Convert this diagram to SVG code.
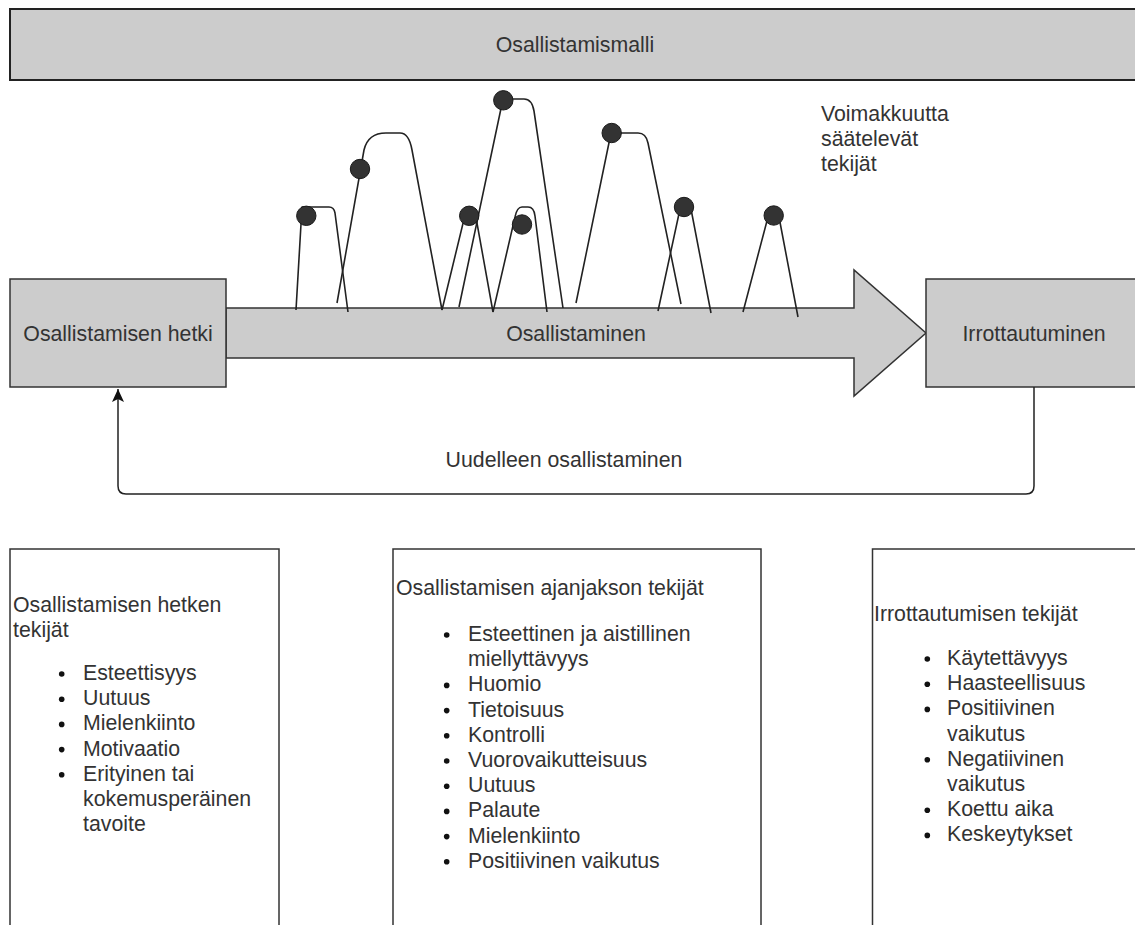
<svg xmlns="http://www.w3.org/2000/svg" width="1135" height="925" viewBox="0 0 1135 925">
<defs>
<style>
.t{font-family:"Liberation Sans",Arial,sans-serif;font-size:21.3px;fill:#333}
.c{text-anchor:middle}
.g{fill:#cccccc;stroke:#333;stroke-width:1.5}
.w{fill:#fff;stroke:#333;stroke-width:1.5}
.ln{fill:none;stroke:#222;stroke-width:1.6;stroke-linejoin:round}
.dot{fill:#333;stroke:#1a1a1a;stroke-width:1}
.b{fill:#111}
</style>
<marker id="arr" viewBox="0 0 14 14" markerWidth="14" markerHeight="14" refX="13" refY="7" orient="auto" markerUnits="userSpaceOnUse">
<path d="M0,1 L13,7 L0,13 L3,7 Z" fill="#111"/>
</marker>
</defs>
<rect width="1135" height="925" fill="#fff"/>

<g id="banner">
<rect x="10" y="9" width="1140" height="71" fill="#cccccc" stroke="#222" stroke-width="2"/>
<text class="t c" x="575" y="51.5">Osallistamismalli</text>
</g>

<g id="arrow-osallistaminen">
<polygon class="g" points="226,308 854,308 854,270 926,333 854,396 854,358 226,358"/>
<text class="t c" x="576" y="340.5">Osallistaminen</text>
</g>

<g id="node-hetki">
<rect class="g" x="10" y="279" width="216" height="108"/>
<text class="t c" x="118" y="340.5">Osallistamisen hetki</text>
</g>

<g id="node-irrottautuminen">
<rect class="g" x="926" y="279" width="216" height="108"/>
<text class="t c" x="1034" y="340.5">Irrottautuminen</text>
</g>

<g id="arches">
<path class="ln" d="M296,310 L302,207 L329,207 Q334,207 335,213 L348,312"/>
<circle class="dot" cx="306.3" cy="215.8" r="9.7"/>
<path class="ln" d="M337,303 L364,150 Q368,133 386,133 L400,133 Q409,133 412,150 L442,310"/>
<circle class="dot" cx="360" cy="169" r="9.7"/>
<path class="ln" d="M459,307 L503,99 L524,99 Q532,99 534,111 L563,308"/>
<circle class="dot" cx="503.3" cy="100.3" r="9.7"/>
<path class="ln" d="M442,310 L466,211 Q470,203 475,212 L493,312"/>
<circle class="dot" cx="469.2" cy="215.8" r="9.7"/>
<path class="ln" d="M493,312 L515,217 Q517,207 522,207 L528,207 Q534,207 535,216 L547,312"/>
<circle class="dot" cx="522" cy="224.5" r="9.7"/>
<path class="ln" d="M576,303 L611,133 L638,133 Q646,133 648,143 L681,304"/>
<circle class="dot" cx="611.7" cy="133" r="9.7"/>
<path class="ln" d="M658,311 L680,209 Q685,201 691,209 L711,313"/>
<circle class="dot" cx="684" cy="207" r="9.7"/>
<path class="ln" d="M743,312 L768,217 Q773,208 779,217 L798,317"/>
<circle class="dot" cx="773.7" cy="215.5" r="9.7"/>
</g>

<g id="label-voimakkuus">
<text class="t" x="821" y="121">Voimakkuutta</text>
<text class="t" x="821" y="146">säätelevät</text>
<text class="t" x="821" y="171">tekijät</text>
</g>

<g id="connectors">
<path d="M1034,387 L1034,486 Q1034,494 1026,494 L126,494 Q118,494 118,486 L118,389" fill="none" stroke="#222" stroke-width="1.5" marker-end="url(#arr)"/>
<text class="t c" x="564" y="466.5">Uudelleen osallistaminen</text>
</g>

<g id="box-hetki-tekijat">
<rect class="w" x="10" y="549" width="269" height="400"/>
<text class="t" x="13" y="611.5">Osallistamisen hetken</text>
<text class="t" x="13" y="636.5">tekijät</text>
<circle class="b" cx="61.7" cy="674" r="2.8"/><text class="t" x="83" y="680">Esteettisyys</text>
<circle class="b" cx="61.7" cy="699.2" r="2.8"/><text class="t" x="83" y="705.2">Uutuus</text>
<circle class="b" cx="61.7" cy="724.4" r="2.8"/><text class="t" x="83" y="730.4">Mielenkiinto</text>
<circle class="b" cx="61.7" cy="749.6" r="2.8"/><text class="t" x="83" y="755.6">Motivaatio</text>
<circle class="b" cx="61.7" cy="774.8" r="2.8"/><text class="t" x="83" y="780.8">Erityinen tai</text>
<text class="t" x="83" y="806">kokemusperäinen</text>
<text class="t" x="83" y="831.2">tavoite</text>
</g>

<g id="box-ajanjakso-tekijat">
<rect class="w" x="393" y="549" width="368" height="400"/>
<text class="t" x="396" y="595">Osallistamisen ajanjakson tekijät</text>
<circle class="b" cx="446.7" cy="635" r="2.8"/><text class="t" x="468" y="641">Esteettinen ja aistillinen</text>
<text class="t" x="468" y="666.2">miellyttävyys</text>
<circle class="b" cx="446.7" cy="685.4" r="2.8"/><text class="t" x="468" y="691.4">Huomio</text>
<circle class="b" cx="446.7" cy="710.6" r="2.8"/><text class="t" x="468" y="716.6">Tietoisuus</text>
<circle class="b" cx="446.7" cy="735.8" r="2.8"/><text class="t" x="468" y="741.8">Kontrolli</text>
<circle class="b" cx="446.7" cy="761" r="2.8"/><text class="t" x="468" y="767">Vuorovaikutteisuus</text>
<circle class="b" cx="446.7" cy="786.2" r="2.8"/><text class="t" x="468" y="792.2">Uutuus</text>
<circle class="b" cx="446.7" cy="811.4" r="2.8"/><text class="t" x="468" y="817.4">Palaute</text>
<circle class="b" cx="446.7" cy="836.6" r="2.8"/><text class="t" x="468" y="842.6">Mielenkiinto</text>
<circle class="b" cx="446.7" cy="861.8" r="2.8"/><text class="t" x="468" y="867.8">Positiivinen vaikutus</text>
</g>

<g id="box-irrottautuminen-tekijat">
<rect class="w" x="872.5" y="549" width="280" height="400"/>
<text class="t" x="874" y="620.7">Irrottautumisen tekijät</text>
<circle class="b" cx="927.3" cy="659" r="2.8"/><text class="t" x="947" y="665">Käytettävyys</text>
<circle class="b" cx="927.3" cy="684.2" r="2.8"/><text class="t" x="947" y="690.2">Haasteellisuus</text>
<circle class="b" cx="927.3" cy="709.4" r="2.8"/><text class="t" x="947" y="715.4">Positiivinen</text>
<text class="t" x="947" y="740.6">vaikutus</text>
<circle class="b" cx="927.3" cy="759.8" r="2.8"/><text class="t" x="947" y="765.8">Negatiivinen</text>
<text class="t" x="947" y="791">vaikutus</text>
<circle class="b" cx="927.3" cy="810.2" r="2.8"/><text class="t" x="947" y="816.2">Koettu aika</text>
<circle class="b" cx="927.3" cy="835.4" r="2.8"/><text class="t" x="947" y="841.4">Keskeytykset</text>
</g>
</svg>
